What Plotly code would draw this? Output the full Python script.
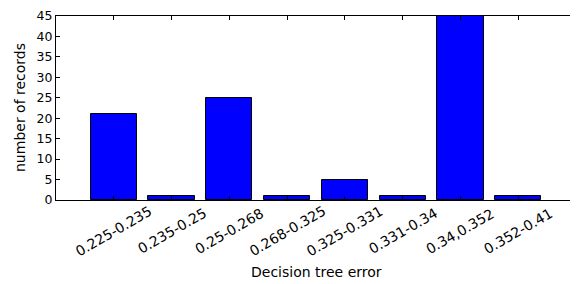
import plotly.graph_objects as go

categories = ["0.225-0.235", "0.235-0.25", "0.25-0.268", "0.268-0.325",
              "0.325-0.331", "0.331-0.34", "0.34,0.352", "0.352-0.41"]
counts = [21, 1, 25, 1, 5, 1, 45, 1]
y_ticks = [0, 5, 10, 15, 20, 25, 30, 35, 40, 45]

positions = list(range(len(categories)))
tick_font = dict(family="DejaVu Sans", size=12.5, color="black")
xlab_font = dict(family="DejaVu Sans", size=14, color="black")
title_font = dict(family="DejaVu Sans", size=14, color="black")

fig = go.Figure()
fig.add_trace(go.Bar(
    x=positions, y=counts, width=0.8,
    marker=dict(color="#0000ff", line=dict(color="black", width=1)),
    showlegend=False,
))

for p, lab in zip(positions, categories):
    fig.add_annotation(x=p, xref="x", y=0, yref="paper", yshift=-31,
                       text=lab, textangle=-30, showarrow=False,
                       xanchor="center", yanchor="middle", font=xlab_font)

fig.add_annotation(x=0.5, xref="paper", y=0, yref="paper", yshift=-72,
                   text="Decision tree error", showarrow=False,
                   xanchor="center", yanchor="middle", font=title_font)

fig.add_annotation(x=0, xref="paper", y=0.5, yref="paper", xshift=-36,
                   text="number of records", textangle=-90, showarrow=False,
                   xanchor="center", yanchor="middle", font=title_font)

# The page body has an 8px default margin, so the figure is shrunk to fit.
fig.update_layout(
    width=570, height=276,
    margin=dict(l=48, r=2, t=8, b=84),
    paper_bgcolor="white", plot_bgcolor="white",
    font=tick_font,
    bargap=0,
)
fig.update_xaxes(
    range=[-1, len(categories)], tickvals=positions, showticklabels=False,
    ticks="inside", ticklen=4, tickcolor="black",
    showline=True, linecolor="black", linewidth=1, mirror="ticks",
    showgrid=False, zeroline=False, automargin=False,
)
fig.update_yaxes(
    range=[0, 45], tickvals=y_ticks, tickfont=tick_font,
    ticks="inside", ticklen=4, tickcolor="black",
    showline=True, linecolor="black", linewidth=1, mirror="ticks",
    showgrid=False, zeroline=False, automargin=False,
)

fig.write_html("out.html")
